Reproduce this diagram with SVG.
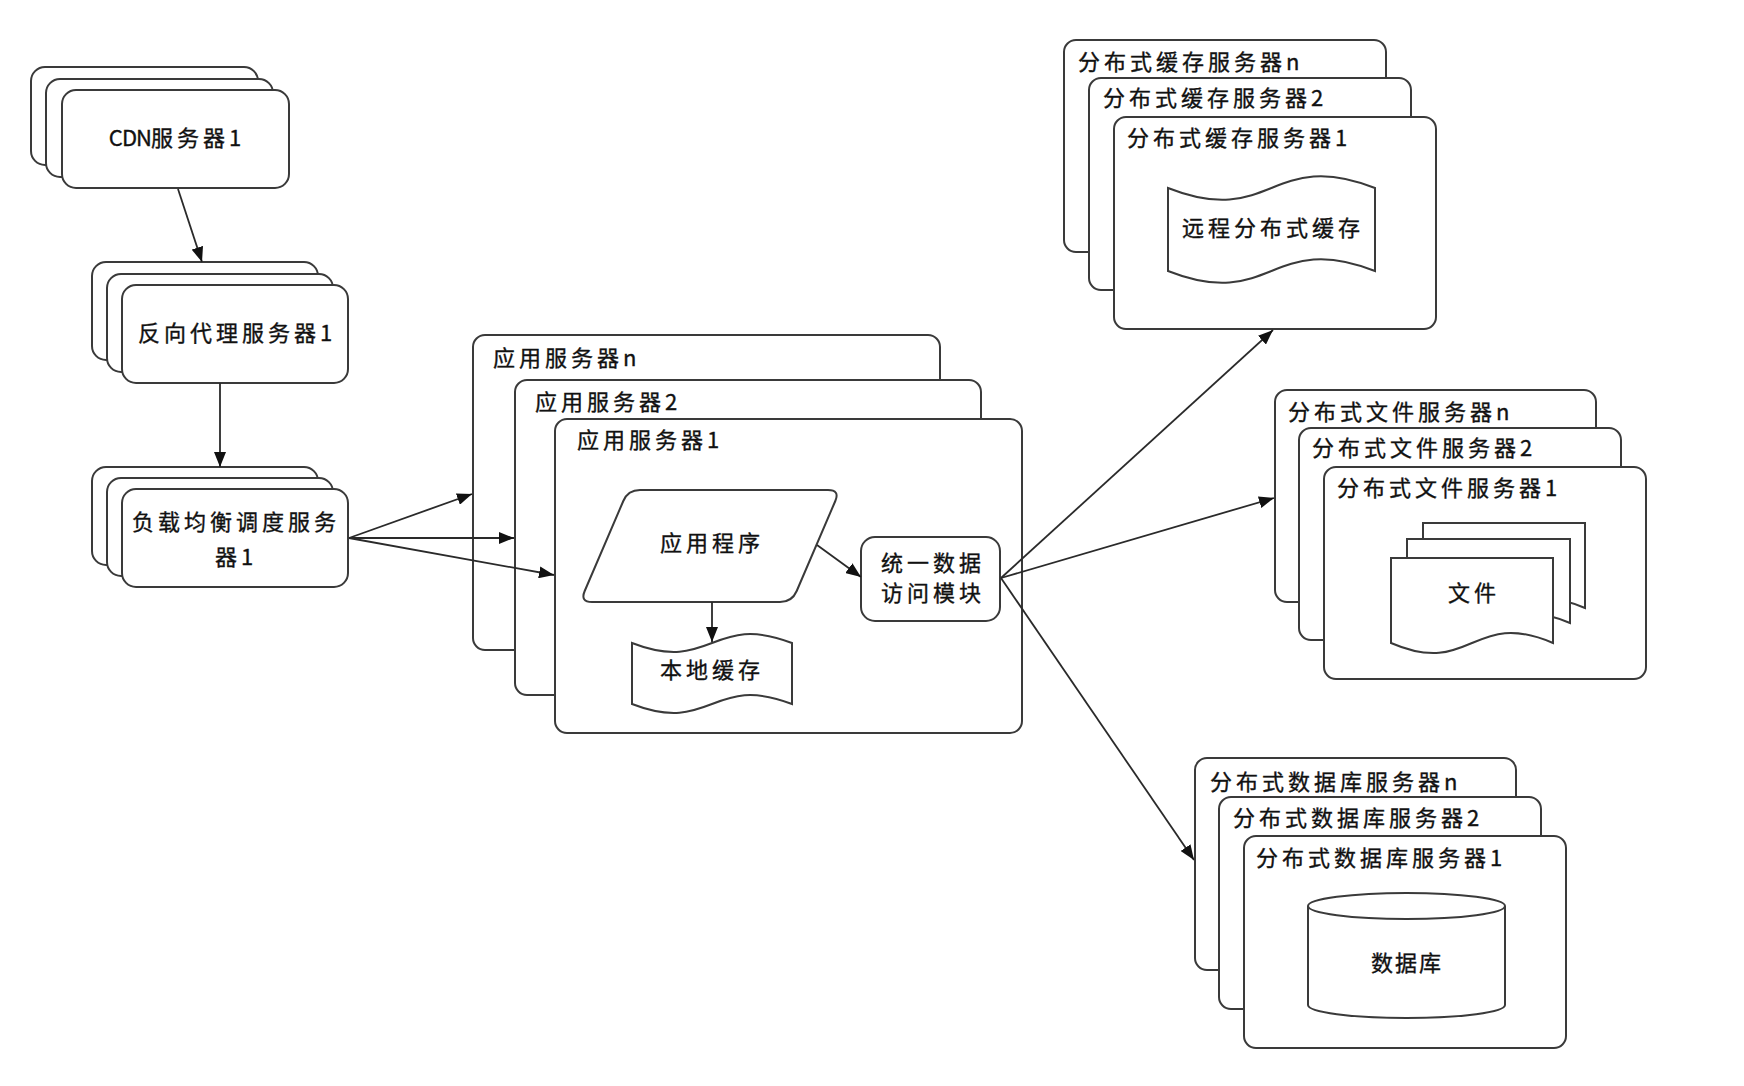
<svg xmlns="http://www.w3.org/2000/svg" width="1744" height="1086" viewBox="0 0 1744 1086">
<defs>
<style>
.b{fill:#fff;stroke:#3a3a3a;stroke-width:2}
.t{font-family:"Noto Sans CJK SC","Noto Sans",sans-serif;font-size:22px;fill:#111;stroke:#111;stroke-width:0.35px;letter-spacing:4px}
.c{text-anchor:middle}
.ln{fill:none;stroke:#2a2a2a;stroke-width:1.8;marker-end:url(#arr)}
</style>
<marker id="arr" markerWidth="15" markerHeight="12" refX="15" refY="6" orient="auto" markerUnits="userSpaceOnUse">
<path d="M0,0 L15,6 L0,12 Z" fill="#111"/>
</marker>
</defs>
<rect width="1744" height="1086" fill="#fff"/>

<g id="cdn">
<rect class="b" x="31" y="67" width="227" height="98" rx="14"/>
<rect class="b" x="46" y="79" width="227" height="98" rx="14"/>
<rect class="b" x="62" y="90" width="227" height="98" rx="14"/>
<text class="t c" x="177" y="146"><tspan style="letter-spacing:-1px">CDN</tspan>服务器1</text>
</g>

<g id="proxy">
<rect class="b" x="92" y="262" width="226" height="98" rx="14"/>
<rect class="b" x="107" y="274" width="226" height="98" rx="14"/>
<rect class="b" x="122" y="285" width="226" height="98" rx="14"/>
<text class="t c" x="237" y="341">反向代理服务器1</text>
</g>

<g id="lb">
<rect class="b" x="92" y="467" width="226" height="98" rx="14"/>
<rect class="b" x="107" y="478" width="226" height="98" rx="14"/>
<rect class="b" x="122" y="489" width="226" height="98" rx="14"/>
<text class="t c" x="236" y="530">负载均衡调度服务</text>
<text class="t c" x="236" y="565">器1</text>
</g>

<g id="app-n">
<rect class="b" x="473" y="335" width="467" height="315" rx="12"/>
<text class="t" x="493" y="366">应用服务器n</text>
</g>
<g id="app-2">
<rect class="b" x="515" y="380" width="466" height="315" rx="12"/>
<text class="t" x="535" y="410">应用服务器2</text>
</g>
<g id="app-1">
<rect class="b" x="555" y="419" width="467" height="314" rx="12"/>
<text class="t" x="577" y="448">应用服务器1</text>
</g>

<g id="app-program">
<path class="b" d="M640,490 L828,490 Q840,490 835.3,501 L796.7,591 Q792,602 780,602 L592,602 Q580,602 584.7,591 L623.3,501 Q628,490 640,490 Z"/>
<text class="t c" x="712" y="551">应用程序</text>
</g>

<g id="local-cache">
<path class="b" d="M632,643 C712,674 712,612 792,643 L792,704 C712,673 712,735 632,704 Z"/>
<text class="t c" x="712" y="678">本地缓存</text>
</g>

<g id="data-access">
<rect class="b" x="861" y="537" width="139" height="84" rx="14"/>
<text class="t c" x="933" y="571">统一数据</text>
<text class="t c" x="933" y="601">访问模块</text>
</g>

<g id="cache-n">
<rect class="b" x="1064" y="40" width="322" height="212" rx="12"/>
<text class="t" x="1078" y="70">分布式缓存服务器n</text>
</g>
<g id="cache-2">
<rect class="b" x="1089" y="78" width="322" height="212" rx="12"/>
<text class="t" x="1103" y="106">分布式缓存服务器2</text>
</g>
<g id="cache-1">
<rect class="b" x="1114" y="117" width="322" height="212" rx="12"/>
<text class="t" x="1127" y="146">分布式缓存服务器1</text>
</g>
<g id="remote-cache">
<path class="b" d="M1168,188 C1271.5,229 1271.5,147 1375,188 L1375,271 C1271.5,230 1271.5,312 1168,271 Z"/>
<text class="t c" x="1273" y="236">远程分布式缓存</text>
</g>

<g id="file-n">
<rect class="b" x="1275" y="390" width="321" height="212" rx="12"/>
<text class="t" x="1288" y="420">分布式文件服务器n</text>
</g>
<g id="file-2">
<rect class="b" x="1299" y="428" width="322" height="212" rx="12"/>
<text class="t" x="1312" y="456">分布式文件服务器2</text>
</g>
<g id="file-1">
<rect class="b" x="1324" y="467" width="322" height="212" rx="12"/>
<text class="t" x="1337" y="496">分布式文件服务器1</text>
</g>
<g id="files">
<path class="b" d="M1423,523 L1585,523 L1585,608 C1504,573 1504,643 1423,608 Z"/>
<path class="b" d="M1407,539 L1570,539 L1570,623 C1488.5,588 1488.5,658 1407,623 Z"/>
<path class="b" d="M1391,558 L1553,558 L1553,643 C1472,608 1472,678 1391,643 Z"/>
<text class="t c" x="1474" y="601">文件</text>
</g>

<g id="db-n">
<rect class="b" x="1195" y="758" width="321" height="212" rx="12"/>
<text class="t" x="1210" y="790">分布式数据库服务器n</text>
</g>
<g id="db-2">
<rect class="b" x="1219" y="797" width="322" height="212" rx="12"/>
<text class="t" x="1233" y="826">分布式数据库服务器2</text>
</g>
<g id="db-1">
<rect class="b" x="1244" y="836" width="322" height="212" rx="12"/>
<text class="t" x="1256" y="866">分布式数据库服务器1</text>
</g>
<g id="database">
<path class="b" d="M1308,906 A98.5,13 0 0,1 1505,906 L1505,1005 A98.5,13 0 0,1 1308,1005 Z"/>
<path class="b" style="fill:none" d="M1308,906 A98.5,13 0 0,0 1505,906"/>
<text class="t c" x="1407" y="971" style="letter-spacing:2px">数据库</text>
</g>

<g id="connectors">
<line class="ln" x1="178" y1="189" x2="202" y2="262"/>
<line class="ln" x1="220" y1="383" x2="220" y2="467"/>
<line class="ln" x1="349" y1="538" x2="472" y2="494"/>
<line class="ln" x1="349" y1="538" x2="514" y2="538"/>
<line class="ln" x1="349" y1="538" x2="554" y2="575"/>
<line class="ln" x1="712" y1="602" x2="712" y2="642"/>
<line class="ln" x1="817" y1="545" x2="861" y2="577"/>
<line class="ln" x1="1001" y1="578" x2="1273" y2="330"/>
<line class="ln" x1="1001" y1="578" x2="1274" y2="498"/>
<line class="ln" x1="1001" y1="578" x2="1194" y2="860"/>
</g>
</svg>
